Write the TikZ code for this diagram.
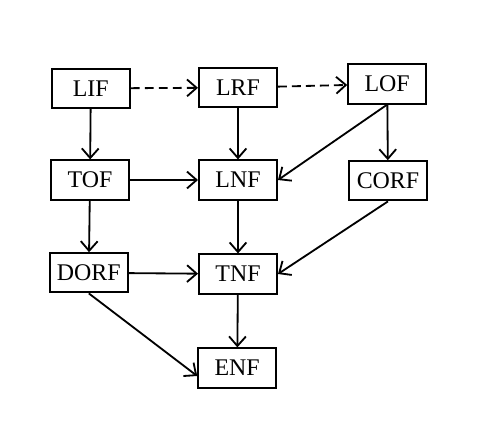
\documentclass[tikz,border=0pt]{standalone}
\usepackage{fontspec}
\setmainfont{Liberation Serif}
\usetikzlibrary{arrows.meta,positioning,calc}
\tikzset{
  fbox/.style={rectangle,draw,line width=1.4pt,minimum width=19.5mm,minimum height=9.8mm,inner sep=0pt,font=\fontsize{17}{20}\selectfont},
  fe/.style={-{Straight Barb[length=2.4mm,width=4.2mm]},line width=1.3pt},
  dfe/.style={-{Straight Barb[length=2.4mm,width=4.2mm]},line width=1.3pt,dash pattern=on 2.2mm off 1.3mm}
}

\begin{document}
\begin{tikzpicture}
\useasboundingbox (0,0) rectangle (12.025,11.05);
\node[fbox] (LIF) at (2.27,8.84) {LIF};
\node[fbox] (LRF) at (5.95,8.86) {LRF};
\node[fbox] (LOF) at (9.68,8.95) {LOF};
\node[fbox] (TOF) at (2.25,6.55) {TOF};
\node[fbox] (LNF) at (5.95,6.55) {LNF};
\node[fbox] (CORF) at (9.70,6.53) {CORF};
\node[fbox] (DORF) at (2.22,4.23) {DORF};
\node[fbox] (TNF) at (5.95,4.20) {TNF};
\node[fbox] (ENF) at (5.93,1.85) {ENF};
\draw[dfe] (LIF) -- (LRF);
\draw[dfe] (LRF) -- (LOF);
\draw[fe] (LIF) -- (TOF);
\draw[fe] (LRF) -- (LNF);
\draw[fe] (LOF.south) -- (LNF.east);
\draw[fe] (LOF) -- (CORF);
\draw[fe] (TOF) -- (LNF);
\draw[fe] (TOF) -- (DORF);
\draw[fe] (LNF) -- (TNF);
\draw[fe] (CORF.south) -- (TNF.east);
\draw[fe] (DORF) -- (TNF);
\draw[fe] (DORF.south) -- ([yshift=-2mm]ENF.west);
\draw[fe] (TNF) -- (ENF);
\end{tikzpicture}
\end{document}
